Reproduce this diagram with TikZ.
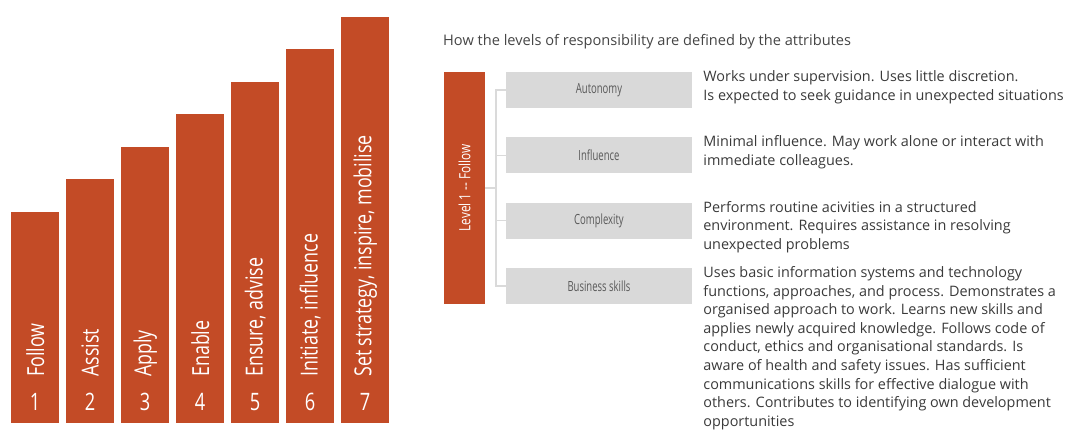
\documentclass[tikz,border=0pt]{standalone}
\usepackage{fontspec}
\setmainfont{Open Sans}
\newfontfamily\condfont[FakeStretch=0.76]{Open Sans}
\newfontfamily\narrowfont[FakeStretch=0.68]{Open Sans}
\definecolor{rust}{HTML}{C34B26}
\definecolor{boxgrey}{HTML}{D9D9D9}
\definecolor{linegrey}{HTML}{DADADA}
\definecolor{txtgrey}{HTML}{3A3A3A}
\definecolor{titlegrey}{HTML}{454545}
\definecolor{labelgrey}{HTML}{595959}

\begin{document}
\begin{tikzpicture}[x=1pt,y=-1pt,
		levelbar/.style={fill=rust, inner sep=0, minimum width=48pt, anchor=south west},
		barlabel/.style={text=white, font=\condfont\fontsize{23.5}{23.5}\selectfont, rotate=90, anchor=west, inner sep=0},
		barnum/.style={text=white, font=\condfont\fontsize{24}{24}\selectfont, inner sep=0},
		attrbox/.style={fill=boxgrey, minimum width=186pt, minimum height=36pt, inner sep=0, text=labelgrey, font=\narrowfont\fontsize{14}{14}\selectfont},
		desc/.style={anchor=north west, inner sep=0, align=left, text=txtgrey, font=\fontsize{14.4}{18.6}\selectfont},
		branch/.style={draw=linegrey, line width=1.6pt}]
	\useasboundingbox (0,0) rectangle (1066,430);
	\foreach \i/\txt in {1/Follow, 2/Assist, 3/Apply, 4/Enable, 5/{Ensure, advise}, 6/{Initiate, influence}, 7/{Set strategy, inspire, mobilise}} {
		\node[levelbar, minimum height={211+32.5*(\i-1)}] (bar\i) at ({11+55*(\i-1)},423) {};
		\node[barnum] (num\i) at ([yshift=21pt]bar\i.south) {\i};
		\node[barlabel] (lab\i) at ([yshift=46pt]bar\i.south) {\txt};
	}
	\node[anchor=base west, inner sep=0, text=titlegrey, font=\fontsize{14.6}{14.6}\selectfont] (title) at (443,46) {How the levels of responsibility are defined by the attributes};
	\node[fill=rust, minimum width=41pt, minimum height=232pt, inner sep=0] (lvl) at (464.5,188) {};
	\node[rotate=90, text=white, inner sep=0, font=\condfont\fontsize{15.5}{15.5}\selectfont] (lvltxt) at (lvl.center) {Level 1 -- Follow};
	\foreach \n/\t [count=\k from 0] in {auto/Autonomy, infl/Influence, cplx/Complexity, biz/Business skills}
		\node[attrbox] (\n) at (599, {90+65.33*\k}) {\t};
	\coordinate (trunk) at (496,188);
	\draw[branch] (lvl.east) -- (lvl.east -| trunk);
	\draw[branch] (auto.west) -| (trunk) |- (biz.west);
	\draw[branch] (infl.west) -- (infl.west -| trunk);
	\draw[branch] (cplx.west) -- (cplx.west -| trunk);
	\node[desc] (dauto) at ([xshift=11pt, yshift=1.5pt]auto.north east) {Works under supervision. Uses little discretion.\\Is expected to seek guidance in unexpected situations};
	\node[desc] (dinfl) at ([xshift=11pt, yshift=1.5pt]infl.north east) {Minimal influence. May work alone or interact with\\immediate colleagues.};
	\node[desc] (dcplx) at ([xshift=11pt, yshift=1.5pt]cplx.north east) {Performs routine acivities in a structured\\environment. Requires assistance in resolving\\unexpected problems};
	\node[desc] (dbiz) at ([xshift=11pt, yshift=1.5pt]biz.north east) {Uses basic information systems and technology\\functions, approaches, and process. Demonstrates a\\organised approach to work. Learns new skills and\\applies newly acquired knowledge. Follows code of\\conduct, ethics and organisational standards. Is\\aware of health and safety issues. Has sufficient\\communications skills for effective dialogue with\\others. Contributes to identifying own development\\opportunities};
\end{tikzpicture}
\end{document}
